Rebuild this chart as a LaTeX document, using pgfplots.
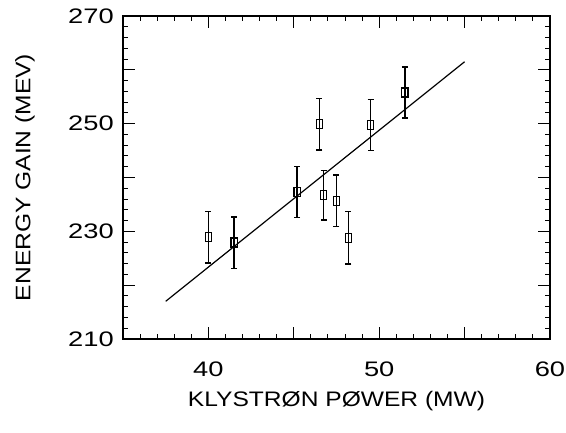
\documentclass[border=0pt]{standalone}
\usepackage{fontspec}
\setmainfont{Liberation Sans}
\newfontfamily\tickfont[FakeStretch=1.3]{Liberation Sans}
\newfontfamily\labfont[FakeStretch=1.17]{Liberation Sans}
\usepackage{pgfplots}
\pgfplotsset{compat=1.18}
\begin{document}
\begin{tikzpicture}
\path[use as bounding box] (-123pt,-93pt) rectangle (443pt,339pt);
\begin{axis}[
  at={(0,0)}, anchor=south west,
  scale only axis, width=427pt, height=323pt,
  xmin=35, xmax=60, ymin=210, ymax=270,
  xtick={35,40,...,60}, xticklabels={,40,,50,,60},
  ytick={210,220,...,270}, yticklabels={210,,230,,250,,270},
  minor x tick num=4, minor y tick num=4,
  tick align=inside,
  major tick length=12pt, minor tick length=5pt,
  axis line style={line width=1.3pt},
  every tick/.style={black, line width=1pt},
  /pgf/number format/assume math mode=true,
  ticklabel style={font=\tickfont\fontsize{21}{21}\selectfont},
  xticklabel style={anchor=north, inner sep=0pt, yshift=-23pt},
  yticklabel style={anchor=east, inner sep=0pt, xshift=-9pt},
  xlabel={KLYSTRØN PØWER (MW)},
  ylabel={ENERGY GAIN (MEV)},
  label style={font=\labfont\fontsize{21}{21}\selectfont},
  xlabel style={at={(axis description cs:0.5,-0.1935)}, anchor=center},
  ylabel style={at={(axis description cs:-0.2295,0.5)}, anchor=center},
  clip=false,
]
\addplot[line width=1.2pt] coordinates {(37.5,217) (55,261.5)};
\addplot[only marks, mark=square, mark size=4.5pt,
  mark options={xscale=0.7, line width=1.3pt, fill=white},
  error bars/.cd, y dir=both, y explicit,
  error bar style={line width=1.5pt},
  error mark options={rotate=90, mark size=3pt, line width=1.3pt}]
  table[x=x, y=y, y error=e] {
x y e
40.0 228.9 4.8
41.5 227.9 4.75
45.2 237.3 4.7
46.5 249.9 4.8
46.75 236.7 4.6
47.5 235.7 4.75
48.2 228.8 4.85
49.5 249.8 4.75
51.5 255.8 4.75
};
\end{axis}
\end{tikzpicture}
\end{document}
